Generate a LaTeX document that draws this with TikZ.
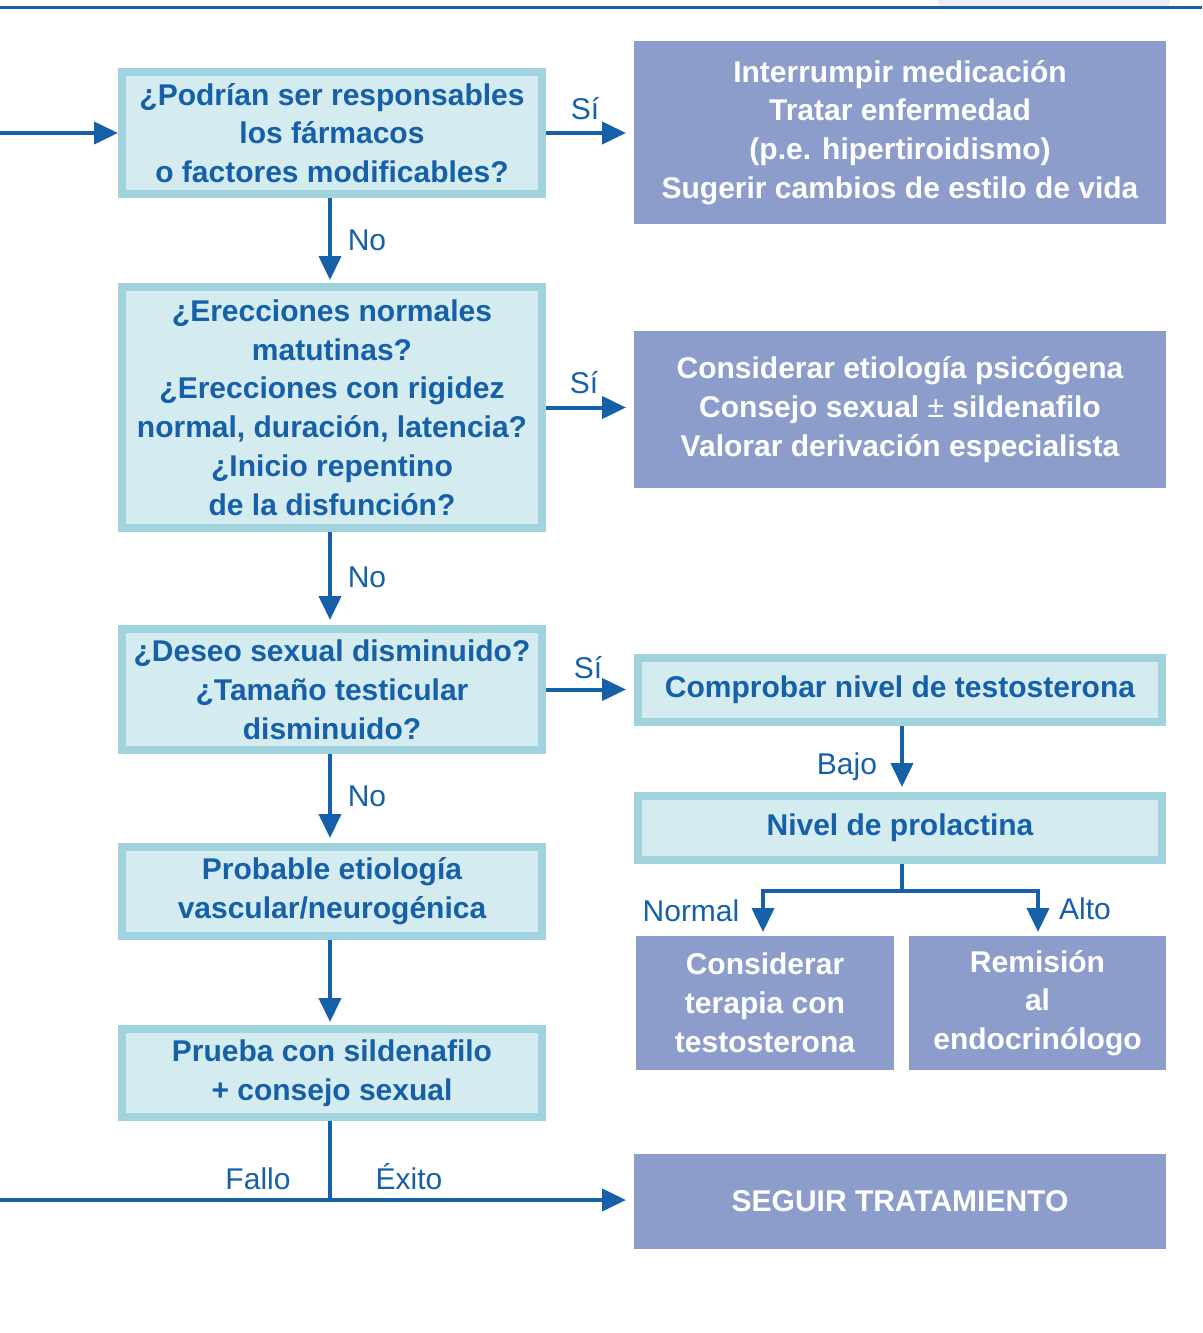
\documentclass[tikz,border=0pt]{standalone}
\usepackage{fontspec}
\setmainfont{Liberation Sans}
\usetikzlibrary{arrows.meta}
\definecolor{dblue}{HTML}{1560A8}
\definecolor{lfill}{HTML}{D4EBF0}
\definecolor{lborder}{HTML}{A0D3DE}
\definecolor{lav}{HTML}{8C9DCB}
\definecolor{faint}{HTML}{EDEDF6}
\tikzset{
  qbox/.style={draw=lborder, line width=8pt, fill=lfill, text=dblue, inner sep=0pt, align=center,
    font=\fontsize{30}{38.8}\selectfont\bfseries},
  abox/.style={fill=lav, draw=none, text=white, inner sep=0pt, outer sep=0pt, align=center,
    font=\fontsize{30}{38.8}\selectfont\bfseries},
  conn/.style={draw=dblue, line width=4pt},
  arr/.style={conn, -{Triangle[length=24pt,width=22pt]}},
  lbl/.style={text=dblue, font=\fontsize{30}{36}\selectfont, inner sep=0pt, anchor=base}
}
\begin{document}
\begin{tikzpicture}[x=1pt,y=-1pt]
\useasboundingbox (0,0) rectangle (1202,1333);
% header
\fill[faint] (938,0) -- (938,2) to[out=-90,in=180] (948,7) -- (1160,7) to[out=0,in=-90] (1170,2) -- (1170,0) -- cycle;
\draw[dblue, line width=3pt] (0,7) -- (1202,7);

% left column
\node[qbox, minimum width=420pt, minimum height=122pt] (q1) at (332,133)
  {¿Podrían ser responsables\\los fármacos\\o factores modificables?};
\node[qbox, minimum width=420pt, minimum height=241pt] (q2) at (332,407.5)
  {¿Erecciones normales\\matutinas?\\¿Erecciones con rigidez\\normal, duración, latencia?\\¿Inicio repentino\\de la disfunción?};
\node[qbox, minimum width=420pt, minimum height=121pt] (q3) at (332,689.5)
  {¿Deseo sexual disminuido?\\¿Tamaño testicular\\disminuido?};
\node[qbox, minimum width=420pt, minimum height=89pt] (q4) at (332,891.5)
  {Probable etiología\\vascular/neurogénica};
\node[qbox, minimum width=420pt, minimum height=88pt] (q5) at (332,1073)
  {Prueba con sildenafilo\\+ consejo sexual};

% right column
\node[abox, minimum width=532pt, minimum height=183pt] (r1) at (900,132.5)
  {Interrumpir medicación\\Tratar enfermedad\\(p.e. hipertiroidismo)\\Sugerir cambios de estilo de vida};
\node[abox, minimum width=532pt, minimum height=157pt] (r2) at (900,409.5)
  {Considerar etiología psicógena\\Consejo sexual {\mdseries ±} sildenafilo\\Valorar derivación especialista};
\node[qbox, minimum width=524pt, minimum height=64pt] (t) at (900,690)
  {\raisebox{-3pt}{Comprobar nivel de testosterona}};
\node[qbox, minimum width=524pt, minimum height=64pt] (p) at (900,828)
  {Nivel de prolactina};
\node[abox, minimum width=258pt, minimum height=134pt] (c1) at (765,1003)
  {Considerar\\terapia con\\testosterona};
\node[abox, minimum width=257pt, minimum height=134pt] (c2) at (1037.5,1003)
  {Remisión\\al\\endocrinólogo};
\node[abox, minimum width=532pt, minimum height=95pt] (s) at (900,1201.5)
  {SEGUIR TRATAMIENTO};

% coordinates
\coordinate (col) at (330,0);
\coordinate (in) at (0,133);
\coordinate (fork) at (902,891);
\coordinate (fl) at (763,891);
\coordinate (fr) at (1038,891);
\coordinate (jn) at (330,1200);
\coordinate (left) at (0,1200);

% connectors
\draw[arr] (in) -- (q1.west);
\draw[arr, shorten >=8pt] (q1.east) -- (q1.east -| r1.west);
\draw[arr, shorten >=3pt] (q1.south -| col) -- (q2.north -| col);
\draw[arr, shorten >=8pt] (q2.east) -- (q2.east -| r2.west);
\draw[arr, shorten >=5pt] (q2.south -| col) -- (q3.north -| col);
\draw[arr, shorten >=8pt] (q3.east) -- (q3.east -| t.west);
\draw[arr, shorten >=5pt] (q3.south -| col) -- (q4.north -| col);
\draw[arr, shorten >=3pt] (q4.south -| col) -- (q5.north -| col);
\draw[arr, shorten >=5pt] (t.south -| fork) -- (p.north -| fork);
\draw[conn] (p.south -| fork) -- (fork);
\draw[arr, shorten >=4pt] (fork) -- (fl) -- (c1.north -| fl);
\draw[arr, shorten >=4pt] (fork) -- (fr) -- (c2.north -| fr);
\draw[conn] (q5.south -| jn) -- (jn);
\draw[arr, shorten >=8pt] (left) -- (left -| s.west);

% labels
\node[lbl] at (585,119) {Sí};
\node[lbl] at (367,250) {No};
\node[lbl] at (584,393) {Sí};
\node[lbl] at (367,587) {No};
\node[lbl] at (588,678) {Sí};
\node[lbl] at (367,806) {No};
\node[lbl] at (847,774) {Bajo};
\node[lbl] at (691,921) {Normal};
\node[lbl] at (1085,919) {Alto};
\node[lbl] at (258,1189) {Fallo};
\node[lbl] at (409,1189) {Éxito};
\end{tikzpicture}
\end{document}
